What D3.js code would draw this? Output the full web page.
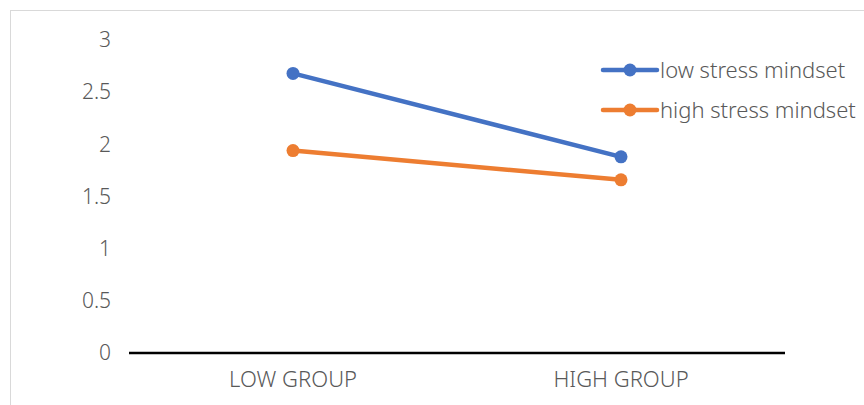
<!DOCTYPE html>
<html>
<head>
<meta charset="utf-8">
<script src="https://cdn.jsdelivr.net/npm/d3@7"></script>
<style>
  html, body { margin: 0; padding: 0; background: #fff; }
  svg { display: block; }
  text { font-family: "Noto Sans", "DejaVu Sans", sans-serif; font-weight: 300; fill: #595959; }
</style>
</head>
<body>
<svg id="chart" width="864" height="405"></svg>
<script>
// Chart data
const categories = ["LOW GROUP", "HIGH GROUP"];
const seriesNames = ["low stress mindset", "high stress mindset"];
const lowStress = [2.68, 1.88];
const highStress = [1.94, 1.66];
const yTicks = [0, 0.5, 1, 1.5, 2, 2.5, 3];
const colors = ["#4472C4", "#ED7D31"];

const series = [
  { name: seriesNames[0], values: lowStress, color: colors[0] },
  { name: seriesNames[1], values: highStress, color: colors[1] }
];

const svg = d3.select("#chart");
const W = 864, H = 405;

// Outer frame of the chart area
svg.append("rect")
  .attr("x", 10.5).attr("y", 10.5)
  .attr("width", W + 10).attr("height", H + 10)
  .attr("fill", "none").attr("stroke", "#d9d9d9").attr("stroke-width", 1);

const plot = { left: 129, right: 785, top: 40, bottom: 353 };

const x = d3.scaleBand().domain(categories).range([plot.left, plot.right]);
const y = d3.scaleLinear().domain([0, 3]).range([plot.bottom, plot.top]);

// Y axis labels (no axis line)
const yAxis = d3.axisLeft(y).tickValues(yTicks).tickSize(0).tickPadding(0)
  .tickFormat(d3.format("~g"));
const gy = svg.append("g").attr("transform", `translate(${plot.left - 18},0)`).call(yAxis);
gy.select(".domain").remove();
gy.selectAll("text").style("font-size", "21px").style("font-family", null).attr("fill", "#595959");

// X axis baseline and category labels
const xAxis = d3.axisBottom(x).tickSize(0).tickPadding(18);
const gx = svg.append("g").attr("transform", `translate(0,${plot.bottom})`).call(xAxis);
gx.select(".domain").attr("stroke", "#000").attr("stroke-width", 2.5)
  .attr("d", `M${plot.left},0H${plot.right}`);
gx.selectAll("text").style("font-size", "22px").style("font-family", null).attr("fill", "#595959")
  .attr("dy", "0.71em");

// Lines and markers
const line = d3.line()
  .x((d, i) => x(categories[i]) + x.bandwidth() / 2)
  .y(d => y(d));

series.forEach(s => {
  svg.append("path")
    .attr("d", line(s.values))
    .attr("fill", "none")
    .attr("stroke", s.color)
    .attr("stroke-width", 4.5)
    .attr("stroke-linecap", "round");
  svg.selectAll(null).data(s.values).enter().append("circle")
    .attr("cx", (d, i) => x(categories[i]) + x.bandwidth() / 2)
    .attr("cy", d => y(d))
    .attr("r", 6.5)
    .attr("fill", s.color);
});

// Legend
const legend = svg.append("g");
series.forEach((s, i) => {
  const ly = 70 + i * 40;
  const g = legend.append("g").attr("transform", `translate(603,${ly})`);
  g.append("line").attr("x1", 0).attr("x2", 54).attr("y1", 0).attr("y2", 0)
    .attr("stroke", s.color).attr("stroke-width", 4.5).attr("stroke-linecap", "round");
  g.append("circle").attr("cx", 27).attr("cy", 0).attr("r", 6.5).attr("fill", s.color);
  g.append("text").attr("x", 57).attr("y", 0).attr("dy", "0.35em")
    .style("font-size", "22px").text(s.name);
});
</script>
</body>
</html>
